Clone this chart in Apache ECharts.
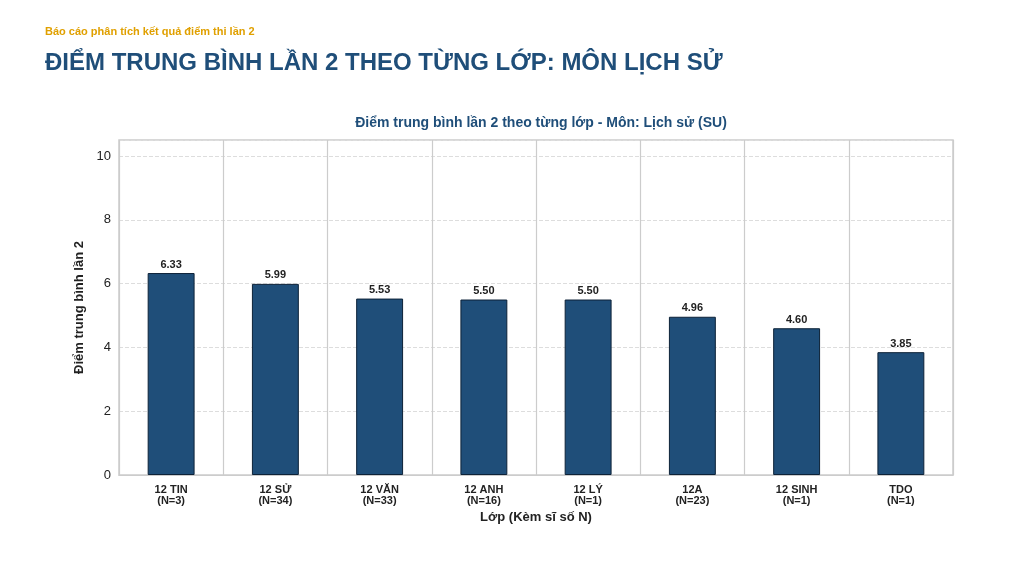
<!DOCTYPE html>
<html><head><meta charset="utf-8">
<script src="https://cdn.jsdelivr.net/npm/echarts@6/dist/echarts.min.js"></script>
<style>body{margin:0;background:#fff;font-family:'Liberation Sans',Arial,sans-serif}
#sub{position:absolute;left:45px;top:25px;font-size:11px;font-weight:bold;color:#e0a000}
#ttl{position:absolute;left:45px;top:48px;font-size:24px;font-weight:bold;color:#1f4e79}
#c{position:absolute;left:0;top:0;width:1020px;height:574px}</style></head>
<body><div id="c"></div><div id="sub">Báo cáo phân tích kết quả điểm thi lần 2</div>
<div id="ttl">ĐIỂM TRUNG BÌNH LẦN 2 THEO TỪNG LỚP: MÔN LỊCH SỬ</div>
<script>
const categories=['12 TIN\n(N=3)','12 SỬ\n(N=34)','12 VĂN\n(N=33)','12 ANH\n(N=16)','12 LÝ\n(N=1)','12A\n(N=23)','12 SINH\n(N=1)','TDO\n(N=1)'];
const values=[6.33,5.99,5.53,5.50,5.50,4.96,4.60,3.85];
const yTicks=[0,2,4,6,8,10];
const ch=echarts.init(document.getElementById('c'));
ch.setOption({
 title:{text:'Điểm trung bình lần 2 theo từng lớp - Môn: Lịch sử (SU)',left:536,textAlign:'center',top:111,textStyle:{fontSize:14,fontWeight:'bold',color:'#1f4e79'}},
 grid:{left:119,right:67,top:140,bottom:99,show:true,borderColor:'#cccccc',borderWidth:1.5},
 xAxis:{type:'category',data:categories,name:'Lớp (Kèm sĩ số N)',nameLocation:'middle',nameGap:33,
  nameTextStyle:{fontSize:13,fontWeight:'bold',color:'#222'},
  axisLine:{lineStyle:{color:'#ccc'}},axisTick:{show:false},
  axisLabel:{fontSize:11,fontWeight:'bold',color:'#222',lineHeight:11,margin:9},
  splitLine:{show:true,interval:0,lineStyle:{color:'#cccccc',width:1.2}}},
 yAxis:{type:'value',min:0,max:10.5,interval:2,name:'Điểm trung bình lần 2',nameLocation:'middle',nameGap:32,
  nameTextStyle:{fontSize:13,fontWeight:'bold',color:'#222'},
  axisLabel:{fontSize:13,color:'#222',formatter:v=>yTicks.includes(v)?v:''},
  axisLine:{show:false},axisTick:{show:false},
  splitLine:{lineStyle:{type:'dashed',color:'#dddddd'}}},
 series:[{type:'bar',data:values,barWidth:'45%',
  itemStyle:{color:'#1f4e79',borderColor:'#0d2238',borderWidth:1},
  label:{show:true,position:'top',formatter:p=>p.value.toFixed(2),fontSize:11,fontWeight:'bold',color:'#222',distance:3}}]
});
</script></body></html>
